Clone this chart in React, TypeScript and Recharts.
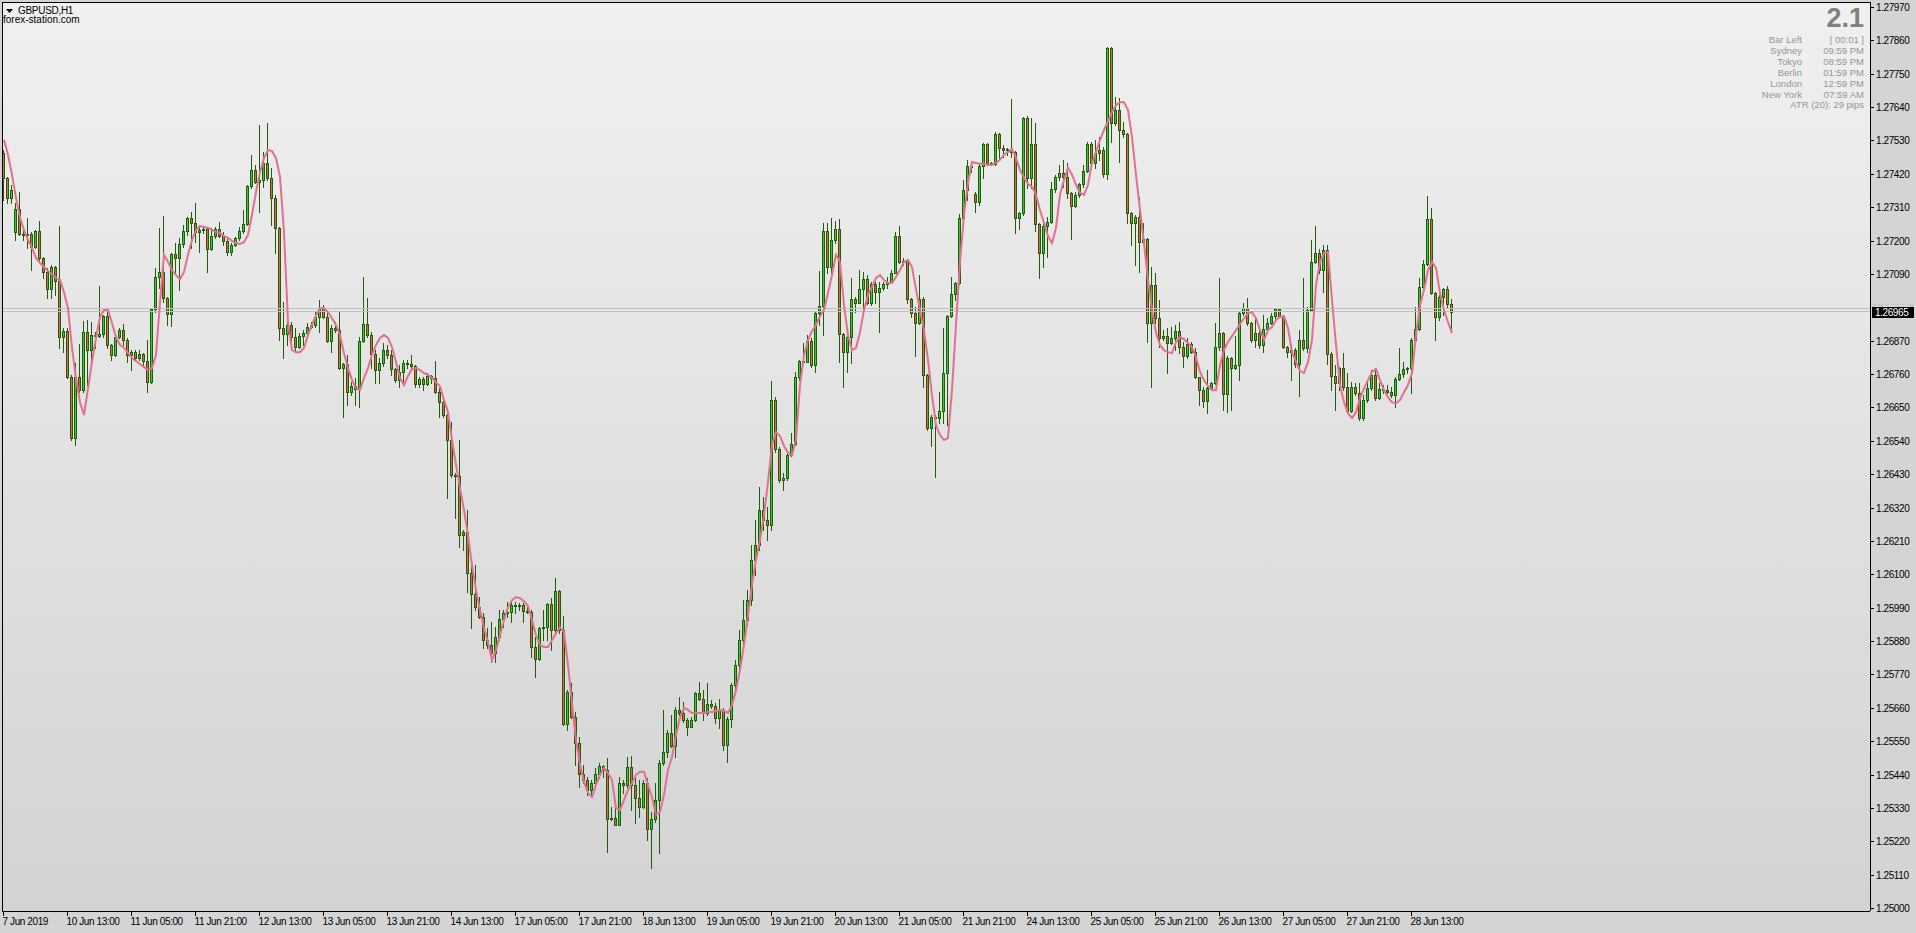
import { ComposedChart, Bar, Line, XAxis, YAxis, ReferenceLine } from 'recharts';

// GBPUSD H1, 7 Jun 2019 21:00 .. 28 Jun 2019 23:00 (one entry per hourly bar)
const opens = [
  1.27489, 1.27407, 1.27341, 1.27228, 1.27304, 1.27222, 1.27219, 1.27222, 1.27179, 1.27232,
  1.27143, 1.27096, 1.27040, 1.27113, 1.27067, 1.26882, 1.26902, 1.26750, 1.26549, 1.26750,
  1.26707, 1.26898, 1.26839, 1.26889, 1.26886, 1.26892, 1.26951, 1.26856, 1.26823, 1.26882,
  1.26905, 1.26872, 1.26823, 1.26832, 1.26813, 1.26826, 1.26803, 1.26733, 1.26974, 1.27080,
  1.27096, 1.27011, 1.26958, 1.27156, 1.27143, 1.27189, 1.27232, 1.27275, 1.27258, 1.27228,
  1.27235, 1.27238, 1.27172, 1.27215, 1.27238, 1.27215, 1.27199, 1.27162, 1.27186, 1.27209,
  1.27232, 1.27255, 1.27380, 1.27433, 1.27393, 1.27400, 1.27456, 1.27407, 1.27341, 1.27242,
  1.26912, 1.26892, 1.26922, 1.26882, 1.26849, 1.26885, 1.26895, 1.26915, 1.26922, 1.26948,
  1.26977, 1.26948, 1.26869, 1.26912, 1.26905, 1.26780, 1.26793, 1.26700, 1.26720, 1.26710,
  1.26869, 1.26925, 1.26889, 1.26826, 1.26773, 1.26796, 1.26839, 1.26823, 1.26777, 1.26740,
  1.26767, 1.26796, 1.26793, 1.26787, 1.26727, 1.26744, 1.26727, 1.26754, 1.26747, 1.26700,
  1.26667, 1.26625, 1.26543, 1.26427, 1.26424, 1.26229, 1.26239, 1.26104, 1.26035, 1.25992,
  1.25959, 1.25883, 1.25867, 1.25840, 1.25893, 1.25952, 1.25972, 1.25975, 1.25998, 1.25995,
  1.25998, 1.25979, 1.25975, 1.25860, 1.25820, 1.25923, 1.25926, 1.26002, 1.25916, 1.26044,
  1.25916, 1.25607, 1.25712, 1.25630, 1.25544, 1.25442, 1.25422, 1.25389, 1.25412, 1.25442,
  1.25468, 1.25455, 1.25293, 1.25297, 1.25274, 1.25412, 1.25406, 1.25465, 1.25406, 1.25363,
  1.25333, 1.25412, 1.25260, 1.25293, 1.25356, 1.25478, 1.25514, 1.25577, 1.25534, 1.25653,
  1.25643, 1.25620, 1.25597, 1.25620, 1.25709, 1.25689, 1.25643, 1.25673, 1.25666, 1.25627,
  1.25653, 1.25537, 1.25623, 1.25735, 1.25801, 1.25883, 1.25949, 1.26015, 1.26147, 1.26197,
  1.26312, 1.26279, 1.26263, 1.26674, 1.26513, 1.26411, 1.26418, 1.26494, 1.26530, 1.26750,
  1.26803, 1.26800, 1.26869, 1.26790, 1.26961, 1.26984, 1.27232, 1.27113, 1.27202, 1.27238,
  1.26892, 1.26832, 1.26882, 1.27007, 1.26994, 1.27040, 1.27073, 1.26994, 1.27057, 1.27030,
  1.27044, 1.27057, 1.27063, 1.27093, 1.27215, 1.27130, 1.27133, 1.27007, 1.26961, 1.26928,
  1.27007, 1.26757, 1.26582, 1.26618, 1.26615, 1.26638, 1.26763, 1.26951, 1.27024, 1.27060,
  1.27275, 1.27367, 1.27446, 1.27354, 1.27328, 1.27446, 1.27519, 1.27456, 1.27453, 1.27551,
  1.27505, 1.27499, 1.27502, 1.27492, 1.27275, 1.27291, 1.27604, 1.27407, 1.27519, 1.27255,
  1.27159, 1.27248, 1.27261, 1.27370, 1.27410, 1.27423, 1.27410, 1.27357, 1.27314, 1.27351,
  1.27387, 1.27430, 1.27519, 1.27456, 1.27489, 1.27499, 1.27420, 1.27835, 1.27587, 1.27630,
  1.27564, 1.27551, 1.27291, 1.27258, 1.27278, 1.27195, 1.27205, 1.26928, 1.27053, 1.26944,
  1.26879, 1.26885, 1.26862, 1.26879, 1.26902, 1.26849, 1.26820, 1.26859, 1.26832, 1.26750,
  1.26707, 1.26671, 1.26713, 1.26730, 1.26849, 1.26895, 1.26694, 1.26813, 1.26780, 1.26790,
  1.26961, 1.26977, 1.26928, 1.26872, 1.26895, 1.26856, 1.26908, 1.26928, 1.26951, 1.26974,
  1.26951, 1.26849, 1.26832, 1.26839, 1.26793, 1.26872, 1.26846, 1.26971, 1.27130, 1.27159,
  1.27103, 1.27169, 1.26826, 1.26754, 1.26730, 1.26780, 1.26717, 1.26638, 1.26717, 1.26697,
  1.26615, 1.26674, 1.26713, 1.26757, 1.26681, 1.26710, 1.26707, 1.26700, 1.26690, 1.26744,
  1.26760, 1.26777, 1.26780, 1.26872, 1.26908, 1.27047, 1.27123, 1.27271, 1.27027, 1.26948,
  1.27014, 1.27040, 1.26990,
];

const highs = [
  1.27499, 1.27410, 1.27384, 1.27324, 1.27360, 1.27245, 1.27275, 1.27228, 1.27235, 1.27265,
  1.27146, 1.27110, 1.27119, 1.27116, 1.27248, 1.26912, 1.26912, 1.26757, 1.26796, 1.26859,
  1.26935, 1.26938, 1.26931, 1.26898, 1.27050, 1.26954, 1.26964, 1.26860, 1.26889, 1.26912,
  1.26925, 1.26879, 1.26839, 1.26839, 1.26839, 1.26829, 1.26872, 1.26977, 1.27110, 1.27242,
  1.27281, 1.27014, 1.27159, 1.27192, 1.27209, 1.27252, 1.27278, 1.27294, 1.27324, 1.27252,
  1.27248, 1.27245, 1.27242, 1.27245, 1.27261, 1.27228, 1.27205, 1.27192, 1.27212, 1.27245,
  1.27301, 1.27384, 1.27483, 1.27450, 1.27581, 1.27492, 1.27587, 1.27440, 1.27351, 1.27245,
  1.26997, 1.26954, 1.26931, 1.26912, 1.26895, 1.26905, 1.26928, 1.26931, 1.26964, 1.27004,
  1.26987, 1.26961, 1.26922, 1.26931, 1.26964, 1.26796, 1.26823, 1.26733, 1.26747, 1.26882,
  1.27080, 1.27011, 1.26898, 1.26839, 1.26813, 1.26862, 1.26856, 1.26839, 1.26780, 1.26790,
  1.26806, 1.26806, 1.26823, 1.26790, 1.26750, 1.26750, 1.26763, 1.26757, 1.26803, 1.26713,
  1.26684, 1.26631, 1.26602, 1.26434, 1.26543, 1.26246, 1.26312, 1.26131, 1.26131, 1.26025,
  1.25972, 1.25923, 1.25942, 1.25926, 1.25982, 1.25982, 1.26008, 1.26008, 1.26008, 1.26005,
  1.26005, 1.25992, 1.25982, 1.25893, 1.25926, 1.25982, 1.26005, 1.26021, 1.26088, 1.26048,
  1.25962, 1.25718, 1.25741, 1.25646, 1.25564, 1.25472, 1.25432, 1.25422, 1.25462, 1.25478,
  1.25472, 1.25495, 1.25333, 1.25333, 1.25432, 1.25422, 1.25498, 1.25501, 1.25429, 1.25422,
  1.25422, 1.25429, 1.25316, 1.25412, 1.25488, 1.25653, 1.25587, 1.25636, 1.25663, 1.25696,
  1.25679, 1.25627, 1.25630, 1.25712, 1.25745, 1.25718, 1.25741, 1.25686, 1.25676, 1.25689,
  1.25660, 1.25630, 1.25741, 1.25817, 1.25916, 1.26015, 1.26048, 1.26197, 1.26279, 1.26388,
  1.26355, 1.26322, 1.26737, 1.26684, 1.26520, 1.26434, 1.26503, 1.26566, 1.26767, 1.26806,
  1.26862, 1.26889, 1.26879, 1.26964, 1.27100, 1.27258, 1.27258, 1.27275, 1.27265, 1.27271,
  1.26895, 1.26889, 1.27077, 1.27014, 1.27103, 1.27096, 1.27086, 1.27063, 1.27063, 1.27063,
  1.27063, 1.27080, 1.27103, 1.27228, 1.27248, 1.27143, 1.27140, 1.27011, 1.26981, 1.27086,
  1.27014, 1.26760, 1.26625, 1.26625, 1.26700, 1.26912, 1.26954, 1.27080, 1.27063, 1.27288,
  1.27400, 1.27466, 1.27463, 1.27360, 1.27453, 1.27522, 1.27522, 1.27459, 1.27558, 1.27555,
  1.27515, 1.27505, 1.27666, 1.27496, 1.27294, 1.27607, 1.27610, 1.27604, 1.27587, 1.27258,
  1.27258, 1.27278, 1.27393, 1.27416, 1.27450, 1.27466, 1.27456, 1.27360, 1.27360, 1.27390,
  1.27450, 1.27525, 1.27525, 1.27532, 1.27542, 1.27509, 1.27838, 1.27838, 1.27673, 1.27670,
  1.27591, 1.27554, 1.27294, 1.27285, 1.27344, 1.27258, 1.27209, 1.27113, 1.27093, 1.27004,
  1.26905, 1.26912, 1.26915, 1.26922, 1.26931, 1.26866, 1.26879, 1.26866, 1.26846, 1.26752,
  1.26717, 1.26773, 1.26733, 1.26928, 1.27077, 1.26898, 1.26820, 1.26816, 1.26885, 1.26964,
  1.26994, 1.27011, 1.26931, 1.26944, 1.26915, 1.26954, 1.26944, 1.26961, 1.26977, 1.26977,
  1.26955, 1.26852, 1.26856, 1.26846, 1.26905, 1.27077, 1.26981, 1.27202, 1.27248, 1.27172,
  1.27186, 1.27186, 1.26832, 1.26790, 1.26783, 1.26829, 1.26763, 1.26733, 1.26730, 1.26730,
  1.26690, 1.26740, 1.26773, 1.26780, 1.26730, 1.26724, 1.26724, 1.26717, 1.26750, 1.26846,
  1.26800, 1.26783, 1.26879, 1.26981, 1.27077, 1.27136, 1.27347, 1.27308, 1.27030, 1.27021,
  1.27044, 1.27050, 1.27007,
];

const lows = [
  1.27334, 1.27324, 1.27324, 1.27202, 1.27219, 1.27202, 1.27176, 1.27103, 1.27176, 1.27136,
  1.27077, 1.27011, 1.27011, 1.27021, 1.26846, 1.26832, 1.26747, 1.26543, 1.26527, 1.26700,
  1.26700, 1.26724, 1.26806, 1.26846, 1.26882, 1.26882, 1.26846, 1.26806, 1.26820, 1.26879,
  1.26856, 1.26800, 1.26773, 1.26810, 1.26806, 1.26790, 1.26700, 1.26730, 1.26964, 1.27044,
  1.26997, 1.26922, 1.26918, 1.27096, 1.27037, 1.27179, 1.27219, 1.27176, 1.27195, 1.27162,
  1.27225, 1.27096, 1.27169, 1.27209, 1.27212, 1.27186, 1.27153, 1.27153, 1.27182, 1.27202,
  1.27225, 1.27252, 1.27374, 1.27390, 1.27294, 1.27377, 1.27400, 1.27252, 1.27159, 1.26872,
  1.26813, 1.26856, 1.26846, 1.26839, 1.26846, 1.26856, 1.26892, 1.26912, 1.26915, 1.26898,
  1.26944, 1.26866, 1.26832, 1.26898, 1.26777, 1.26618, 1.26658, 1.26690, 1.26658, 1.26651,
  1.26866, 1.26882, 1.26780, 1.26730, 1.26730, 1.26787, 1.26813, 1.26757, 1.26733, 1.26717,
  1.26730, 1.26780, 1.26773, 1.26717, 1.26717, 1.26707, 1.26724, 1.26730, 1.26697, 1.26618,
  1.26618, 1.26352, 1.26420, 1.26286, 1.26190, 1.26180, 1.26041, 1.25923, 1.25982, 1.25956,
  1.25857, 1.25857, 1.25810, 1.25810, 1.25883, 1.25926, 1.25959, 1.25942, 1.25972, 1.25982,
  1.25942, 1.25972, 1.25827, 1.25761, 1.25817, 1.25883, 1.25883, 1.25850, 1.25910, 1.25906,
  1.25603, 1.25587, 1.25627, 1.25472, 1.25399, 1.25412, 1.25373, 1.25373, 1.25412, 1.25429,
  1.25432, 1.25184, 1.25290, 1.25272, 1.25272, 1.25379, 1.25399, 1.25323, 1.25280, 1.25300,
  1.25330, 1.25224, 1.25132, 1.25283, 1.25181, 1.25472, 1.25498, 1.25531, 1.25498, 1.25636,
  1.25613, 1.25570, 1.25597, 1.25617, 1.25686, 1.25620, 1.25636, 1.25660, 1.25610, 1.25594,
  1.25521, 1.25481, 1.25597, 1.25718, 1.25784, 1.25867, 1.25932, 1.25998, 1.26098, 1.26180,
  1.26246, 1.26213, 1.26246, 1.26503, 1.26404, 1.26378, 1.26411, 1.26490, 1.26526, 1.26740,
  1.26796, 1.26800, 1.26783, 1.26767, 1.26922, 1.26889, 1.27093, 1.27090, 1.27192, 1.26800,
  1.26717, 1.26767, 1.26796, 1.26964, 1.26994, 1.26971, 1.26990, 1.26987, 1.26994, 1.26898,
  1.27037, 1.27044, 1.27060, 1.27093, 1.27126, 1.27119, 1.26994, 1.26948, 1.26819, 1.26925,
  1.26717, 1.26575, 1.26523, 1.26420, 1.26598, 1.26598, 1.26592, 1.26948, 1.27004, 1.27057,
  1.27268, 1.27334, 1.27426, 1.27294, 1.27318, 1.27407, 1.27450, 1.27450, 1.27450, 1.27472,
  1.27475, 1.27483, 1.27475, 1.27225, 1.27238, 1.27285, 1.27374, 1.27374, 1.27232, 1.27077,
  1.27113, 1.27146, 1.27258, 1.27360, 1.27400, 1.27377, 1.27341, 1.27205, 1.27311, 1.27344,
  1.27377, 1.27426, 1.27450, 1.27440, 1.27466, 1.27410, 1.27403, 1.27525, 1.27580, 1.27459,
  1.27542, 1.27258, 1.27186, 1.27119, 1.27096, 1.27192, 1.26866, 1.26717, 1.26928, 1.26849,
  1.26872, 1.26763, 1.26858, 1.26839, 1.26829, 1.26783, 1.26813, 1.26829, 1.26747, 1.26658,
  1.26651, 1.26631, 1.26707, 1.26727, 1.26839, 1.26641, 1.26635, 1.26641, 1.26777, 1.26740,
  1.26954, 1.26922, 1.26866, 1.26849, 1.26846, 1.26832, 1.26898, 1.26925, 1.26944, 1.26948,
  1.26846, 1.26816, 1.26740, 1.26783, 1.26687, 1.26839, 1.26832, 1.26968, 1.27126, 1.27093,
  1.27031, 1.26793, 1.26707, 1.26641, 1.26707, 1.26707, 1.26635, 1.26635, 1.26690, 1.26608,
  1.26608, 1.26667, 1.26707, 1.26674, 1.26677, 1.26697, 1.26697, 1.26684, 1.26651, 1.26740,
  1.26750, 1.26763, 1.26697, 1.26869, 1.26905, 1.27044, 1.27119, 1.27024, 1.26872, 1.26938,
  1.26954, 1.26981, 1.26898,
];

const closes = [
  1.27407, 1.27341, 1.27367, 1.27304, 1.27222, 1.27219, 1.27222, 1.27179, 1.27232, 1.27143,
  1.27096, 1.27040, 1.27113, 1.27067, 1.26882, 1.26902, 1.26750, 1.26549, 1.26750, 1.26707,
  1.26898, 1.26839, 1.26889, 1.26886, 1.26892, 1.26951, 1.26856, 1.26823, 1.26882, 1.26905,
  1.26872, 1.26823, 1.26832, 1.26813, 1.26826, 1.26803, 1.26733, 1.26974, 1.27080, 1.27096,
  1.27011, 1.26958, 1.27156, 1.27143, 1.27189, 1.27232, 1.27275, 1.27258, 1.27228, 1.27235,
  1.27238, 1.27172, 1.27215, 1.27238, 1.27215, 1.27199, 1.27162, 1.27186, 1.27209, 1.27232,
  1.27255, 1.27380, 1.27433, 1.27393, 1.27400, 1.27456, 1.27407, 1.27341, 1.27242, 1.26912,
  1.26892, 1.26922, 1.26882, 1.26849, 1.26885, 1.26895, 1.26915, 1.26922, 1.26948, 1.26977,
  1.26948, 1.26869, 1.26912, 1.26905, 1.26780, 1.26793, 1.26700, 1.26720, 1.26710, 1.26869,
  1.26925, 1.26889, 1.26826, 1.26773, 1.26796, 1.26839, 1.26823, 1.26777, 1.26740, 1.26767,
  1.26796, 1.26793, 1.26787, 1.26727, 1.26744, 1.26727, 1.26754, 1.26747, 1.26700, 1.26667,
  1.26625, 1.26543, 1.26427, 1.26424, 1.26229, 1.26239, 1.26104, 1.26035, 1.25992, 1.25959,
  1.25883, 1.25867, 1.25840, 1.25893, 1.25952, 1.25972, 1.25975, 1.25998, 1.25995, 1.25998,
  1.25979, 1.25975, 1.25860, 1.25820, 1.25923, 1.25926, 1.26002, 1.25916, 1.26044, 1.25916,
  1.25607, 1.25712, 1.25630, 1.25544, 1.25442, 1.25422, 1.25389, 1.25412, 1.25442, 1.25468,
  1.25455, 1.25293, 1.25297, 1.25274, 1.25412, 1.25406, 1.25465, 1.25406, 1.25363, 1.25333,
  1.25412, 1.25260, 1.25293, 1.25356, 1.25478, 1.25514, 1.25577, 1.25534, 1.25653, 1.25643,
  1.25620, 1.25597, 1.25620, 1.25709, 1.25689, 1.25643, 1.25673, 1.25666, 1.25627, 1.25653,
  1.25537, 1.25623, 1.25735, 1.25801, 1.25883, 1.25949, 1.26015, 1.26147, 1.26197, 1.26312,
  1.26279, 1.26263, 1.26674, 1.26513, 1.26411, 1.26418, 1.26494, 1.26530, 1.26750, 1.26803,
  1.26800, 1.26869, 1.26790, 1.26961, 1.26984, 1.27232, 1.27113, 1.27202, 1.27238, 1.26892,
  1.26832, 1.26882, 1.27007, 1.26994, 1.27040, 1.27073, 1.26994, 1.27057, 1.27030, 1.27044,
  1.27057, 1.27063, 1.27093, 1.27215, 1.27130, 1.27133, 1.27007, 1.26961, 1.26928, 1.27007,
  1.26757, 1.26582, 1.26618, 1.26615, 1.26638, 1.26763, 1.26951, 1.27024, 1.27060, 1.27275,
  1.27367, 1.27446, 1.27443, 1.27328, 1.27446, 1.27519, 1.27456, 1.27453, 1.27551, 1.27505,
  1.27499, 1.27502, 1.27492, 1.27275, 1.27291, 1.27604, 1.27407, 1.27519, 1.27255, 1.27159,
  1.27248, 1.27261, 1.27370, 1.27410, 1.27423, 1.27410, 1.27357, 1.27314, 1.27351, 1.27387,
  1.27430, 1.27519, 1.27456, 1.27489, 1.27499, 1.27420, 1.27835, 1.27587, 1.27630, 1.27564,
  1.27551, 1.27291, 1.27258, 1.27278, 1.27195, 1.27205, 1.26928, 1.27053, 1.26944, 1.26879,
  1.26885, 1.26862, 1.26879, 1.26902, 1.26849, 1.26820, 1.26859, 1.26832, 1.26750, 1.26707,
  1.26671, 1.26713, 1.26730, 1.26849, 1.26895, 1.26694, 1.26813, 1.26780, 1.26790, 1.26961,
  1.26977, 1.26928, 1.26872, 1.26895, 1.26856, 1.26908, 1.26928, 1.26951, 1.26974, 1.26951,
  1.26849, 1.26832, 1.26839, 1.26793, 1.26872, 1.26846, 1.26971, 1.27130, 1.27159, 1.27103,
  1.27169, 1.26826, 1.26754, 1.26730, 1.26780, 1.26717, 1.26638, 1.26717, 1.26697, 1.26615,
  1.26674, 1.26713, 1.26757, 1.26681, 1.26710, 1.26707, 1.26700, 1.26690, 1.26744, 1.26760,
  1.26777, 1.26780, 1.26872, 1.26908, 1.27047, 1.27123, 1.27271, 1.27027, 1.26948, 1.27014,
  1.27040, 1.26990, 1.26965,
];

// pink moving average, one value per bar
const maValues = [
  1.27532, 1.27483, 1.27417, 1.27341, 1.27275, 1.27235, 1.27202, 1.27176, 1.27143, 1.27126,
  1.27113, 1.27100, 1.27090, 1.27077, 1.27070, 1.27030, 1.26977, 1.26846, 1.26747, 1.26667,
  1.26625, 1.26713, 1.26800, 1.26879, 1.26948, 1.26971, 1.26971, 1.26928, 1.26882, 1.26856,
  1.26846, 1.26829, 1.26813, 1.26803, 1.26793, 1.26783, 1.26773, 1.26780, 1.26823, 1.26997,
  1.27153, 1.27130, 1.27103, 1.27086, 1.27073, 1.27096, 1.27153, 1.27202, 1.27235, 1.27248,
  1.27245, 1.27242, 1.27235, 1.27228, 1.27225, 1.27215, 1.27209, 1.27199, 1.27192, 1.27189,
  1.27195, 1.27219, 1.27285, 1.27360, 1.27426, 1.27472, 1.27499, 1.27495, 1.27472, 1.27410,
  1.27228, 1.26931, 1.26839, 1.26832, 1.26832, 1.26846, 1.26889, 1.26922, 1.26954, 1.26977,
  1.26977, 1.26964, 1.26944, 1.26922, 1.26889, 1.26829, 1.26780, 1.26740, 1.26713, 1.26707,
  1.26747, 1.26780, 1.26823, 1.26856, 1.26879, 1.26889, 1.26879, 1.26849, 1.26800, 1.26747,
  1.26724, 1.26754, 1.26777, 1.26780, 1.26773, 1.26763, 1.26757, 1.26747, 1.26733, 1.26720,
  1.26674, 1.26635, 1.26543, 1.26461, 1.26385, 1.26312, 1.26229, 1.26131, 1.26048, 1.25982,
  1.25923, 1.25877, 1.25817, 1.25850, 1.25899, 1.25949, 1.25992, 1.26015, 1.26025, 1.26021,
  1.26011, 1.25995, 1.25949, 1.25899, 1.25867, 1.25860, 1.25860, 1.25883, 1.25906, 1.25926,
  1.25910, 1.25801, 1.25676, 1.25554, 1.25472, 1.25416, 1.25379, 1.25366, 1.25406, 1.25439,
  1.25462, 1.25445, 1.25422, 1.25330, 1.25323, 1.25356, 1.25389, 1.25412, 1.25439, 1.25449,
  1.25449, 1.25406, 1.25366, 1.25307, 1.25316, 1.25373, 1.25455, 1.25498, 1.25570, 1.25627,
  1.25660, 1.25653, 1.25643, 1.25643, 1.25643, 1.25643, 1.25646, 1.25646, 1.25650, 1.25653,
  1.25650, 1.25643, 1.25669, 1.25718, 1.25784, 1.25867, 1.25965, 1.26065, 1.26147, 1.26213,
  1.26295, 1.26404, 1.26527, 1.26569, 1.26556, 1.26523, 1.26500, 1.26493, 1.26543, 1.26724,
  1.26823, 1.26872, 1.26902, 1.26922, 1.26951, 1.26971, 1.27027, 1.27086, 1.27153, 1.27130,
  1.26987, 1.26889, 1.26839, 1.26846, 1.26898, 1.26971, 1.27021, 1.27047, 1.27077, 1.27086,
  1.27070, 1.27060, 1.27060, 1.27080, 1.27103, 1.27130, 1.27136, 1.27113, 1.27040, 1.26971,
  1.26905, 1.26806, 1.26690, 1.26592, 1.26559, 1.26543, 1.26549, 1.26707, 1.26922, 1.27130,
  1.27285, 1.27390, 1.27459, 1.27456, 1.27453, 1.27453, 1.27450, 1.27450, 1.27456, 1.27466,
  1.27483, 1.27492, 1.27502, 1.27472, 1.27433, 1.27407, 1.27387, 1.27377, 1.27351, 1.27301,
  1.27258, 1.27215, 1.27192, 1.27242, 1.27351, 1.27400, 1.27440, 1.27417, 1.27384, 1.27357,
  1.27351, 1.27384, 1.27456, 1.27492, 1.27532, 1.27564, 1.27594, 1.27624, 1.27646, 1.27656,
  1.27656, 1.27630, 1.27541, 1.27417, 1.27301, 1.27192, 1.27070, 1.26971, 1.26895, 1.26856,
  1.26839, 1.26832, 1.26829, 1.26866, 1.26882, 1.26875, 1.26862, 1.26849, 1.26816, 1.26767,
  1.26740, 1.26720, 1.26707, 1.26707, 1.26790, 1.26839, 1.26866, 1.26885, 1.26905, 1.26925,
  1.26944, 1.26961, 1.26964, 1.26944, 1.26905, 1.26872, 1.26905, 1.26915, 1.26938, 1.26948,
  1.26951, 1.26912, 1.26832, 1.26800, 1.26770, 1.26763, 1.26800, 1.26872, 1.27053, 1.27130,
  1.27159, 1.27162, 1.27004, 1.26856, 1.26724, 1.26667, 1.26631, 1.26615, 1.26635, 1.26681,
  1.26713, 1.26740, 1.26767, 1.26777, 1.26740, 1.26707, 1.26684, 1.26667, 1.26664, 1.26674,
  1.26700, 1.26724, 1.26763, 1.26889, 1.26987, 1.27037, 1.27103, 1.27130, 1.27110, 1.27027,
  1.26971, 1.26931, 1.26895,
];

// time axis labels, one every 16 bars
const dateLabels = [
  '7 Jun 2019', '10 Jun 13:00', '11 Jun 05:00', '11 Jun 21:00', '12 Jun 13:00', '13 Jun 05:00',
  '13 Jun 21:00', '14 Jun 13:00', '17 Jun 05:00', '17 Jun 21:00', '18 Jun 13:00', '19 Jun 05:00',
  '19 Jun 21:00', '20 Jun 13:00', '21 Jun 05:00', '21 Jun 21:00', '24 Jun 13:00', '25 Jun 05:00',
  '25 Jun 21:00', '26 Jun 13:00', '27 Jun 05:00', '27 Jun 21:00', '28 Jun 13:00',
];

// price scale labels (1.26980 is hidden behind the bid marker)
const priceTicks = [
  1.2797, 1.2786, 1.2775, 1.2764, 1.2753, 1.2742, 1.2731, 1.272, 1.2709, 1.2687,
  1.2676, 1.2665, 1.2654, 1.2643, 1.2632, 1.2621, 1.261, 1.2599, 1.2588, 1.2577,
  1.2566, 1.2555, 1.2544, 1.2533, 1.2522, 1.2511, 1.25,
];

const bidPrice = 1.26965;
const askPrice = 1.26976;

const sessionRows = [
  ['Bar Left', '[ 00:01 ]'],
  ['Sydney', '09:59 PM'],
  ['Tokyo', '08:59 PM'],
  ['Berlin', '01:59 PM'],
  ['London', '12:59 PM'],
  ['New York', '07:59 AM'],
];

const W = 1916;
const H = 933;
const PLOT_LEFT = 2;
const PLOT_TOP = 2;
const PLOT_RIGHT = 1870;
const PLOT_BOTTOM = 911;
const SLOTS = 467; // visible bar slots incl. empty shift area on the right
const Y_MIN = 1.2499011;
const Y_MAX = 1.2798648;

const EDGE = '#205c0c';
const BULL = '#33cc33';
const BEAR = '#e0643f';
const MA_COLOR = '#e2708f';
const FONT = "'Liberation Sans', Arial, sans-serif";

const rows = Array.from({ length: SLOTS }, (_, i) =>
  i < closes.length
    ? {
        idx: i,
        open: opens[i],
        high: highs[i],
        low: lows[i],
        close: closes[i],
        range: [lows[i], highs[i]],
        ma: maValues[i],
      }
    : { idx: i }
);

function Candle(props: any) {
  const { x, y, height, payload } = props;
  if (!payload || payload.high === undefined) return null;
  const top = Math.min(y, y + height);
  const bot = Math.max(y, y + height);
  const span = payload.high - payload.low || 1e-9;
  const py = (p: number) => Math.round(top + ((payload.high - p) / span) * (bot - top));
  const bx = Math.round(x);
  const yh = py(payload.high);
  const yl = py(payload.low);
  const yo = py(payload.open);
  const yc = py(payload.close);
  const bt = Math.min(yo, yc);
  const bb = Math.max(yo, yc);
  const up = payload.close >= payload.open;
  return (
    <g shapeRendering="crispEdges">
      <rect x={bx + 1} y={yh} width={1} height={yl - yh + 1} fill={EDGE} />
      <rect x={bx} y={bt} width={3} height={bb - bt + 1} fill={EDGE} />
      {bb - bt >= 2 && (
        <rect x={bx + 1} y={bt + 1} width={1} height={bb - bt - 1} fill={up ? BULL : BEAR} />
      )}
    </g>
  );
}

function DateTick(props: any) {
  const { x, payload } = props;
  const n = Number(payload.value);
  const k = n / 16;
  if (n % 16 !== 0 || k >= dateLabels.length) return null;
  const tx = Math.round(x) - 0.5;
  return (
    <g>
      <line x1={tx} x2={tx} y1={PLOT_BOTTOM} y2={PLOT_BOTTOM + 5} stroke="#000" />
      <text x={tx - 1} y={PLOT_BOTTOM + 14} fontSize={10} fontFamily={FONT} fill="#000"
        style={{ letterSpacing: '-0.4px' }}>
        {dateLabels[k]}
      </text>
    </g>
  );
}

function PriceTick(props: any) {
  const { y, payload } = props;
  const ty = Math.round(y) + 0.5;
  return (
    <g>
      <line x1={PLOT_RIGHT} x2={PLOT_RIGHT + 4} y1={ty} y2={ty} stroke="#000" />
      <text x={PLOT_RIGHT + 6} y={ty + 3.5} fontSize={10} fontFamily={FONT} fill="#000"
        style={{ letterSpacing: '-0.4px' }}>
        {Number(payload.value).toFixed(5)}
      </text>
    </g>
  );
}

const priceBox = (text: string, bg: string, fg: string) => (p: any) => {
  const vb = p && p.viewBox ? p.viewBox : { y: 0 };
  const ly = Math.round(vb.y);
  return (
    <g>
      <rect x={PLOT_RIGHT + 2} y={ly - 5} width={42} height={11} fill={bg} />
      <text x={PLOT_RIGHT + 5} y={ly + 4} fontSize={10} fontFamily={FONT} fill={fg}
        style={{ letterSpacing: '-0.4px' }}>
        {text}
      </text>
    </g>
  );
};

export default function App() {
  return (
    <div style={{ position: 'fixed', left: 0, top: 0, width: W, height: H, background: '#d4d4d4', overflow: 'hidden' }}>
      <div
        style={{
          position: 'absolute',
          left: PLOT_LEFT,
          top: PLOT_TOP,
          width: PLOT_RIGHT - PLOT_LEFT,
          height: PLOT_BOTTOM - PLOT_TOP,
          background: 'linear-gradient(to bottom, #f0f0f0, #d3d3d3)',
        }}
      />
      <div style={{ position: 'absolute', left: 0, top: 0 }}>
        <ComposedChart
          width={W}
          height={H}
          data={rows}
          margin={{ top: PLOT_TOP, right: 0, bottom: 0, left: PLOT_LEFT }}
          barCategoryGap={0}
          barGap={0}
        >
          <XAxis
            dataKey="idx"
            type="category"
            height={PLOT_TOP + H - PLOT_BOTTOM - PLOT_TOP}
            interval={15}
            tickLine={false}
            axisLine={{ stroke: '#000', shapeRendering: 'crispEdges' }}
            tick={<DateTick />}
          />
          <YAxis
            orientation="right"
            type="number"
            width={W - PLOT_RIGHT}
            domain={[Y_MIN, Y_MAX]}
            allowDataOverflow
            ticks={priceTicks}
            interval={0}
            tickLine={false}
            axisLine={{ stroke: '#000', shapeRendering: 'crispEdges' }}
            tick={<PriceTick />}
          />
          <ReferenceLine y={askPrice} stroke="#c0c0c0" shapeRendering="crispEdges"
            label={priceBox(askPrice.toFixed(5), '#c8c8c8', '#e6e6e6')} />
          <ReferenceLine y={bidPrice} stroke="#c0c0c0" shapeRendering="crispEdges"
            label={priceBox(bidPrice.toFixed(5), '#000000', '#ffffff')} />
          <Bar dataKey="range" barSize={4} shape={(p: any) => <Candle {...p} />} isAnimationActive={false} />
          <Line
            dataKey="ma"
            type="linear"
            stroke={MA_COLOR}
            strokeWidth={2}
            dot={false}
            activeDot={false}
            isAnimationActive={false}
          />
        </ComposedChart>
      </div>
      <svg width={W} height={H} style={{ position: 'absolute', left: 0, top: 0, pointerEvents: 'none' }}>
        <g shapeRendering="crispEdges">
          <line x1={PLOT_LEFT} x2={PLOT_RIGHT} y1={PLOT_TOP + 0.5} y2={PLOT_TOP + 0.5} stroke="#000" />
          <line x1={PLOT_LEFT + 0.5} x2={PLOT_LEFT + 0.5} y1={PLOT_TOP} y2={PLOT_BOTTOM} stroke="#000" />
        </g>
        <polygon points="6,9 13,9 9.5,13" fill="#000" />
        <text x={18} y={14} fontSize={10} fontFamily={FONT} fill="#000" style={{ letterSpacing: '-0.3px' }}>
          GBPUSD,H1
        </text>
        <text x={3} y={22.5} fontSize={10} fontFamily={FONT} fill="#000">
          forex-station.com
        </text>
        <text x={1864} y={27} fontSize={27} fontWeight="bold" fontFamily={FONT} fill="#808080" textAnchor="end">
          2.1
        </text>
        {sessionRows.map(([name, value], k) => (
          <g key={name}>
            <text x={1802} y={43 + k * 10.9} fontSize={9.5} fontFamily={FONT} fill="#959595" textAnchor="end">
              {name}
            </text>
            <text x={1864} y={43 + k * 10.9} fontSize={9.5} fontFamily={FONT} fill="#959595" textAnchor="end">
              {value}
            </text>
          </g>
        ))}
        <text x={1864} y={43 + 6 * 10.9} fontSize={9.5} fontFamily={FONT} fill="#959595" textAnchor="end">
          ATR (20): 29 pips
        </text>
      </svg>
    </div>
  );
}
